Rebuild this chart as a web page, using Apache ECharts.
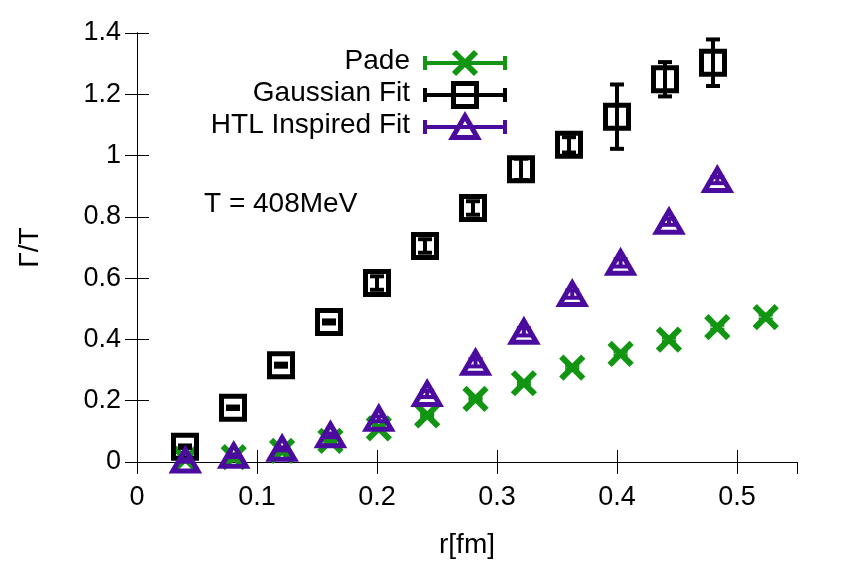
<!DOCTYPE html>
<html>
<head>
<meta charset="utf-8">
<script src="https://cdn.jsdelivr.net/npm/echarts@6/dist/echarts.min.js"></script>
<style>
  html, body { margin: 0; padding: 0; background: #fff; }
  #chart { width: 847px; height: 565px; }
</style>
</head>
<body>
<div id="chart"></div>
<script>
// r values of the lattice points
const rGauss = [0.04, 0.08, 0.12, 0.16, 0.20, 0.24, 0.28, 0.32, 0.36, 0.40, 0.44, 0.48]
const rLat = [0.0403, 0.0806, 0.1209, 0.1612, 0.2015, 0.2418, 0.2821, 0.3224, 0.3627, 0.4030, 0.4433, 0.4836, 0.5239]

// Gamma/T values and errors
const padeVal = [0.010, 0.016, 0.036, 0.069, 0.110, 0.152, 0.206, 0.257, 0.308, 0.353, 0.399, 0.440, 0.473]
const padeErr = [0.003, 0.003, 0.003, 0.004, 0.004, 0.005, 0.005, 0.006, 0.006, 0.007, 0.007, 0.008, 0.008]
const gaussVal = [0.050, 0.177, 0.316, 0.457, 0.584, 0.705, 0.829, 0.955, 1.035, 1.127, 1.249, 1.303]
const gaussErr = [0.004, 0.004, 0.005, 0.005, 0.022, 0.022, 0.022, 0.035, 0.025, 0.105, 0.056, 0.076]
const htlVal = [0.005, 0.020, 0.043, 0.087, 0.141, 0.222, 0.324, 0.425, 0.548, 0.650, 0.784, 0.920]
const htlErr = [0.004, 0.004, 0.005, 0.006, 0.008, 0.010, 0.012, 0.012, 0.012, 0.012, 0.010, 0.010]

const xTicks = [0, 0.1, 0.2, 0.3, 0.4, 0.5]
const yTicks = [0, 0.2, 0.4, 0.6, 0.8, 1, 1.2, 1.4]

const GREEN = '#129512'
const BLACK = '#000000'
const PURPLE = '#4b0b9f'
const FONT = 'Liberation Sans, Arial, sans-serif'

function zip(xs, ys, es) {
  return ys.map((y, i) => [xs[i], y, es[i]])
}

function errBar(api, color, cap) {
  const x = api.value(0), y = api.value(1), e = api.value(2)
  const lo = api.coord([x, y - e])
  const hi = api.coord([x, y + e])
  const st = { stroke: color, lineWidth: 4 }
  return [
    { type: 'line', shape: { x1: lo[0], y1: lo[1], x2: hi[0], y2: hi[1] }, style: st },
    { type: 'line', shape: { x1: lo[0] - cap, y1: lo[1], x2: lo[0] + cap, y2: lo[1] }, style: st },
    { type: 'line', shape: { x1: hi[0] - cap, y1: hi[1], x2: hi[0] + cap, y2: hi[1] }, style: st }
  ]
}

function crossMark(cx, cy, color) {
  const s = 11
  const st = { stroke: color, lineWidth: 6 }
  return [
    { type: 'line', shape: { x1: cx - s, y1: cy - s, x2: cx + s, y2: cy + s }, style: st },
    { type: 'line', shape: { x1: cx - s, y1: cy + s, x2: cx + s, y2: cy - s }, style: st }
  ]
}
function squareMark(cx, cy, color) {
  return [{ type: 'rect', shape: { x: cx - 11.5, y: cy - 11.5, width: 23, height: 23 },
    style: { stroke: color, fill: null, lineWidth: 5 } }]
}
function triMark(cx, cy, color) {
  return [{ type: 'polygon', shape: { points: [[cx - 12.5, cy + 10.5], [cx + 12.5, cy + 10.5], [cx, cy - 11]] },
    style: { stroke: color, fill: null, lineWidth: 5, lineJoin: 'miter' } }]
}

function makeRender(mark, color) {
  return function (params, api) {
    const p = api.coord([api.value(0), api.value(1)])
    return { type: 'group', children: errBar(api, color, 7).concat(mark(p[0], p[1], color)) }
  }
}

// legend sample: horizontal error bar with marker
function legendRow(y, label, mark, color) {
  const st = { stroke: color, lineWidth: 4 }
  return [
    { type: 'text', right: 847 - 410, top: y - 16, style: { text: label, font: '28px ' + FONT, fill: '#000', textAlign: 'right' } },
    { type: 'line', shape: { x1: 425, y1: y, x2: 505, y2: y }, style: st },
    { type: 'line', shape: { x1: 425, y1: y - 7, x2: 425, y2: y + 7 }, style: st },
    { type: 'line', shape: { x1: 505, y1: y - 7, x2: 505, y2: y + 7 }, style: st }
  ].concat(mark(465, y, color))
}

const chart = echarts.init(document.getElementById('chart'), null, { renderer: 'canvas' })

const axisCommon = {
  type: 'value',
  axisLine: { show: true, lineStyle: { color: '#000', width: 1 } },
  axisTick: { show: true, inside: true, length: 12, lineStyle: { color: '#000', width: 1 } },
  splitLine: { show: false },
  axisLabel: { show: false }
}

chart.setOption({
  animation: false,
  backgroundColor: '#fff',
  textStyle: { fontFamily: FONT },
  grid: { left: 137, right: 50, top: 33, bottom: 103 },
  xAxis: [
    Object.assign({}, axisCommon, {
      position: 'bottom', min: 0, max: 0.55, interval: 0.1,
      name: 'r[fm]', nameLocation: 'middle', nameGap: 69,
      nameTextStyle: { fontSize: 28, color: '#000', fontFamily: FONT },
      axisLabel: { show: true, fontSize: 27, color: '#000', margin: 22, fontFamily: FONT, showMaxLabel: false,
        formatter: v => xTicks.includes(+v.toFixed(2)) ? String(+v.toFixed(2)) : '' }
    }),
    Object.assign({}, axisCommon, { position: 'top', min: 0, max: 0.55, interval: 0.1 })
  ],
  yAxis: [
    Object.assign({}, axisCommon, {
      position: 'left', min: 0, max: 1.4, interval: 0.2,
      name: 'Γ/T', nameLocation: 'middle', nameGap: 93, nameRotate: 90,
      nameTextStyle: { fontSize: 28, color: '#000', fontFamily: FONT },
      axisLabel: { show: true, fontSize: 27, color: '#000', margin: 16, fontFamily: FONT,
        formatter: v => yTicks.includes(+v.toFixed(1)) ? String(+v.toFixed(1)) : '' }
    }),
    Object.assign({}, axisCommon, { position: 'right', min: 0, max: 1.4, interval: 0.2 })
  ],
  graphic: [
    { type: 'text', left: 204, top: 190, style: { text: 'T = 408MeV', font: '28px ' + FONT, fill: '#000' } }
  ].concat(
    legendRow(63, 'Pade', crossMark, GREEN),
    legendRow(95, 'Gaussian Fit', squareMark, BLACK),
    legendRow(127, 'HTL Inspired Fit', triMark, PURPLE)
  ),
  series: [
    { name: 'Pade', type: 'custom', clip: false, data: zip(rLat, padeVal, padeErr),
      renderItem: makeRender(crossMark, GREEN) },
    { name: 'Gaussian Fit', type: 'custom', clip: false, data: zip(rGauss, gaussVal, gaussErr),
      renderItem: makeRender(squareMark, BLACK) },
    { name: 'HTL Inspired Fit', type: 'custom', clip: false, data: zip(rLat, htlVal, htlErr),
      renderItem: makeRender(triMark, PURPLE) }
  ]
})
</script>
</body>
</html>
